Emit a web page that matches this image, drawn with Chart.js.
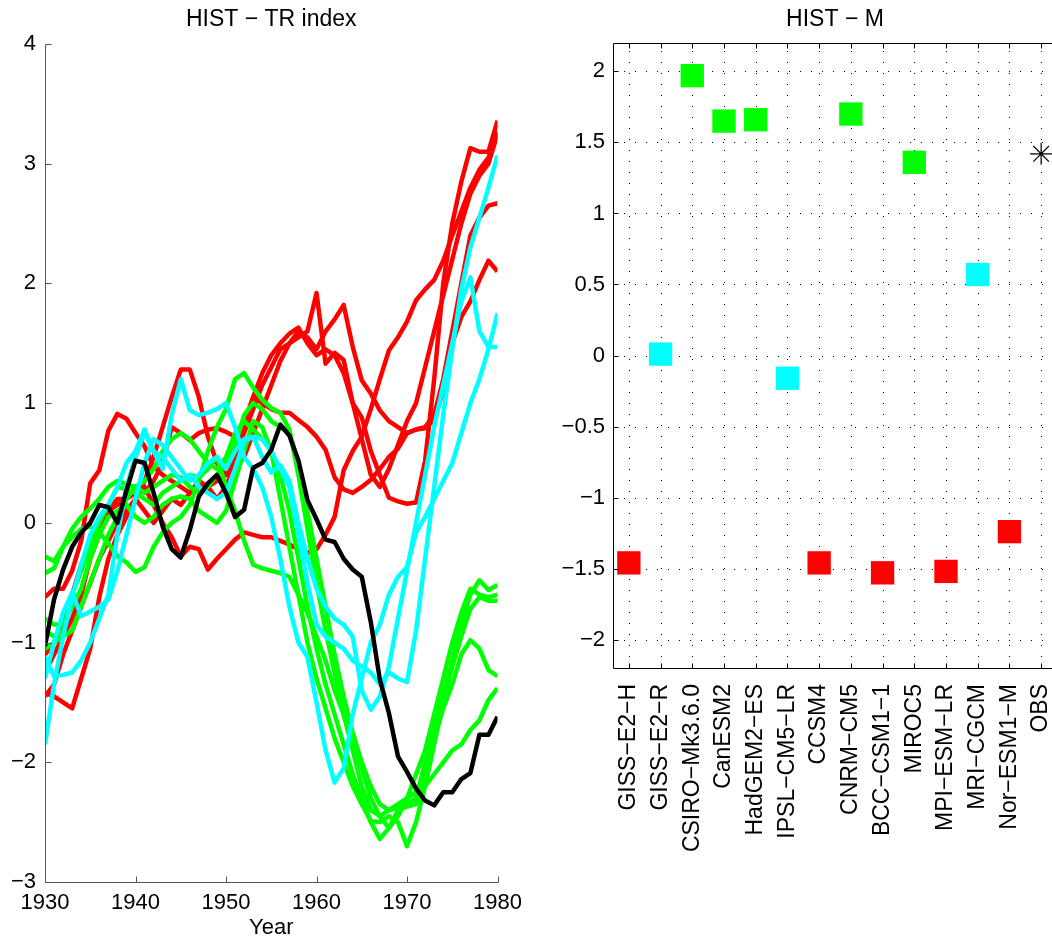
<!DOCTYPE html>
<html>
<head>
<meta charset="utf-8">
<script src="https://cdn.jsdelivr.net/npm/chart.js@4.4.0/dist/chart.umd.min.js"></script>
<style>
  html, body { margin: 0; padding: 0; background: #fff; overflow: hidden; width: 1052px; height: 941px; }
  #left { position: absolute; left: 0; top: 0; }
  #right { position: absolute; left: 540px; top: 0; }
</style>
</head>
<body>
<canvas id="left" width="530" height="941"></canvas>
<canvas id="right" width="560" height="941"></canvas>
<script>
// left panel: TR index, one value per year
const years = [1930,1931,1932,1933,1934,1935,1936,1937,1938,1939,
  1940,1941,1942,1943,1944,1945,1946,1947,1948,1949,
  1950,1951,1952,1953,1954,1955,1956,1957,1958,1959,
  1960,1961,1962,1963,1964,1965,1966,1967,1968,1969,
  1970,1971,1972,1973,1974,1975,1976,1977,1978,1979,1980];

const obs = [-1.03,-0.64,-0.39,-0.20,-0.08,0.00,0.15,0.13,0.00,0.27,
  0.52,0.50,0.25,-0.03,-0.22,-0.29,-0.06,0.22,0.33,0.40,
  0.25,0.05,0.11,0.46,0.50,0.61,0.82,0.73,0.52,0.19,
  0.03,-0.14,-0.16,-0.30,-0.39,-0.45,-0.83,-1.31,-1.59,-1.95,
  -2.08,-2.22,-2.32,-2.36,-2.25,-2.25,-2.14,-2.09,-1.77,-1.77,-1.62];

const red1 = [-1.42,-1.45,-1.50,-1.55,-1.30,-1.05,-0.62,-0.30,-0.10,0.05,
  0.20,0.35,0.55,0.80,1.05,1.28,1.28,1.05,0.72,0.50,
  0.40,0.45,0.55,0.75,0.95,1.15,1.35,1.50,1.60,1.55,
  1.45,1.60,1.70,1.82,1.47,1.19,1.08,0.94,0.85,0.80,
  0.75,0.78,0.79,0.86,1.10,1.50,1.72,1.85,2.03,2.19,2.10];
const red2 = [-0.62,-0.55,-0.55,-0.40,-0.15,0.33,0.44,0.77,0.91,0.87,
  0.75,0.64,0.47,0.40,0.35,0.30,0.25,0.30,0.30,0.35,
  0.40,0.55,0.75,0.95,1.15,1.30,1.45,1.50,1.55,1.60,
  1.92,1.33,1.42,1.36,1.00,0.88,0.60,0.40,0.21,0.18,
  0.16,0.17,0.52,1.20,2.00,2.50,2.85,3.13,3.10,3.10,3.36];
const red3 = [-1.25,-1.10,-0.95,-0.80,-0.60,-0.30,-0.10,0.10,0.20,0.20,
  0.25,0.30,0.15,0.00,-0.12,-0.28,-0.20,-0.22,-0.39,-0.30,
  -0.22,-0.14,-0.08,-0.10,-0.12,-0.12,-0.15,-0.18,-0.22,-0.25,
  -0.22,-0.10,0.05,0.44,0.60,0.72,0.95,1.20,1.44,1.55,
  1.68,1.86,1.95,2.03,2.19,2.40,2.60,2.80,2.95,3.05,3.27];
const red4 = [-1.10,-1.00,-0.85,-0.60,-0.35,-0.15,0.00,0.10,0.15,0.20,
  0.30,0.25,0.35,0.50,0.80,0.75,0.69,0.75,0.78,0.79,
  0.76,0.72,0.84,1.05,1.00,0.95,0.92,0.92,0.86,0.80,
  0.72,0.61,0.38,0.28,0.25,0.30,0.36,0.45,0.55,0.62,
  0.75,0.78,0.80,0.90,1.20,1.60,2.00,2.40,2.55,2.65,2.67];
const red5 = [-1.45,-1.35,-1.10,-0.90,-0.70,-0.50,-0.30,-0.15,0.00,0.10,
  0.20,0.10,0.00,0.10,0.20,0.15,0.25,0.35,0.30,0.20,
  0.30,0.50,0.80,1.05,1.25,1.40,1.50,1.58,1.63,1.50,
  1.40,1.45,1.40,1.25,1.00,0.70,0.40,0.30,0.45,0.65,
  0.85,1.00,1.30,1.60,1.90,2.20,2.50,2.75,2.90,3.00,3.25];

const green1 = [-0.28,-0.32,-0.20,-0.12,-0.05,-0.03,-0.08,-0.17,-0.28,-0.33,
  -0.41,-0.37,-0.20,-0.08,0.00,0.05,0.15,0.35,0.60,0.80,
  0.95,1.20,1.25,1.13,1.03,0.96,0.92,0.78,0.40,-0.05,
  -0.50,-0.90,-1.25,-1.60,-1.90,-2.20,-2.40,-2.45,-2.40,-2.38,
  -2.35,-2.30,-2.00,-1.70,-1.45,-1.15,-0.85,-0.60,-0.48,-0.56,-0.52];
const green2 = [-0.42,-0.38,-0.20,-0.05,0.05,0.12,0.20,0.30,0.35,0.32,
  0.30,0.35,0.45,0.60,0.70,0.75,0.70,0.60,0.50,0.45,
  0.55,0.75,0.85,0.78,0.70,0.60,0.40,0.10,-0.30,-0.70,
  -1.05,-1.35,-1.60,-1.85,-2.10,-2.30,-2.50,-2.64,-2.55,-2.45,
  -2.30,-2.10,-1.90,-1.60,-1.30,-1.00,-0.75,-0.55,-0.60,-0.62,-0.60];
const green3 = [-0.80,-0.85,-0.85,-0.70,-0.55,-0.30,-0.10,0.05,0.10,0.15,
  0.05,0.00,0.05,0.15,0.20,0.22,0.20,0.10,0.05,0.00,
  0.10,0.35,0.60,0.85,0.80,0.60,0.20,-0.20,-0.60,-1.00,
  -1.30,-1.55,-1.80,-2.00,-2.20,-2.35,-2.49,-2.50,-2.45,-2.50,
  -2.70,-2.50,-2.20,-1.85,-1.50,-1.20,-0.95,-0.72,-0.62,-0.65,-0.65];
const green4 = [-0.90,-0.95,-0.90,-0.60,-0.40,-0.20,0.00,0.15,0.30,0.28,
  0.25,0.20,0.15,0.25,0.30,0.35,0.40,0.38,0.45,0.55,
  0.30,0.10,-0.15,-0.35,-0.38,-0.40,-0.42,-0.45,-0.60,-0.75,
  -0.95,-1.15,-1.40,-1.60,-1.85,-2.05,-2.30,-2.45,-2.55,-2.40,
  -2.37,-2.35,-2.10,-1.80,-1.55,-1.35,-1.10,-0.98,-1.05,-1.23,-1.28];
const green5 = [-1.05,-1.00,-0.95,-0.90,-0.70,-0.50,-0.30,-0.10,0.05,0.20,
  0.30,0.25,0.30,0.35,0.40,0.38,0.30,0.25,0.30,0.40,
  0.50,0.65,0.90,1.00,0.95,0.85,0.80,0.75,0.50,0.10,
  -0.30,-0.70,-1.10,-1.45,-1.75,-2.00,-2.20,-2.35,-2.40,-2.35,
  -2.30,-2.25,-2.20,-2.10,-2.00,-1.90,-1.85,-1.73,-1.65,-1.48,-1.38];

const cyan1 = [-1.85,-1.35,-0.95,-0.62,-0.35,-0.10,0.05,0.15,0.30,0.50,
  0.60,0.78,0.60,0.45,0.90,1.20,0.94,0.90,0.92,0.95,
  1.00,0.80,0.55,0.45,0.30,0.05,-0.30,-0.70,-1.00,-1.12,
  -1.50,-1.90,-2.17,-2.05,-1.60,-1.30,-1.00,-0.85,-0.60,-0.45,
  -0.37,-0.08,0.05,0.20,0.35,0.50,0.75,1.00,1.20,1.45,1.75];
const cyan2 = [-1.12,-1.28,-1.27,-1.25,-1.15,-1.00,-0.80,-0.60,-0.10,0.30,
  0.55,0.75,0.60,0.55,0.45,0.35,0.40,0.30,0.25,0.20,
  0.25,0.45,0.68,0.72,0.70,0.60,0.45,0.30,-0.10,-0.50,
  -0.85,-0.95,-1.00,-1.05,-1.15,-1.20,-1.25,-1.35,-1.25,-1.30,
  -1.33,-0.90,-0.30,0.30,0.90,1.45,1.95,2.30,2.55,2.80,3.07];
const cyan3 = [-1.30,-1.00,-0.75,-0.58,-0.78,-0.74,-0.70,-0.64,-0.40,-0.10,
  0.20,0.50,0.70,0.65,0.55,0.45,0.35,0.40,0.50,0.55,
  0.45,0.60,0.70,0.72,0.55,0.42,0.48,0.35,0.00,-0.30,
  -0.55,-0.70,-0.80,-0.85,-0.95,-1.40,-1.56,-1.45,-1.20,-0.80,
  -0.40,0.00,0.40,0.80,1.15,1.50,1.85,2.05,1.60,1.47,1.47];

// right panel: M per model
const modelNames = ['GISS\u2212E2\u2212H','GISS\u2212E2\u2212R','CSIRO\u2212Mk3.6.0','CanESM2','HadGEM2\u2212ES',
  'IPSL\u2212CM5\u2212LR','CCSM4','CNRM\u2212CM5','BCC\u2212CSM1\u22121','MIROC5','MPI\u2212ESM\u2212LR',
  'MRI\u2212CGCM','Nor\u2212ESM1\u2212M','OBS'];
const modelM = [-1.46, 0.01, 1.97, 1.65, 1.66, -0.16, -1.46, 1.70, -1.53, 1.36, -1.52, 0.57, -1.24, 1.42];
const modelGroup = ['red','cyan','green','green','green','cyan','red','green','red','green','red','cyan','red','obs'];

const COLORS = { red: '#ff0000', green: '#00ff00', cyan: '#00ffff', obs: '#000000' };
Chart.defaults.font.family = '"Liberation Sans", Helvetica, Arial, sans-serif';
Chart.defaults.color = '#000';

function fmt(v) {
  return v < 0 ? '\u2212' + Math.abs(v) : String(v);
}

// axis lines + ticks pointing into the plot, dotted grid if asked
const frame = {
  id: 'frame',
  beforeDatasetsDraw(chart, args, o) {
    if (!o.grid) return;
    const { ctx, chartArea: a, scales: { x, y } } = chart;
    ctx.save();
    ctx.strokeStyle = '#000';
    ctx.lineWidth = 1;
    ctx.setLineDash([1, 10]);
    ctx.beginPath();
    x.ticks.forEach(t => {
      const p = Math.round(x.getPixelForValue(t.value)) + 0.5;
      ctx.moveTo(p, a.bottom);
      ctx.lineTo(p, a.top);
    });
    y.ticks.forEach(t => {
      const p = Math.round(y.getPixelForValue(t.value)) + 0.5;
      ctx.moveTo(a.left, p);
      ctx.lineTo(a.right, p);
    });
    ctx.stroke();
    ctx.restore();
  },
  afterDatasetsDraw(chart, args, o) {
    const { ctx, chartArea: a, scales: { x, y } } = chart;
    const L = Math.round(a.left) + 0.5, R = Math.round(a.right) + 0.5;
    const T = Math.round(a.top) + 0.5, B = Math.round(a.bottom) + 0.5;
    ctx.save();
    ctx.strokeStyle = o.color;
    ctx.lineWidth = 1;
    ctx.beginPath();
    y.ticks.forEach(t => {
      const p = Math.round(y.getPixelForValue(t.value)) + 0.5;
      ctx.moveTo(L, p); ctx.lineTo(L + o.len, p);
      if (o.box) { ctx.moveTo(R, p); ctx.lineTo(R - o.len, p); }
    });
    x.ticks.forEach(t => {
      const p = Math.round(x.getPixelForValue(t.value)) + 0.5;
      ctx.moveTo(p, B); ctx.lineTo(p, B - o.len);
      if (o.box) { ctx.moveTo(p, T); ctx.lineTo(p, T + o.len); }
    });
    ctx.moveTo(L, T); ctx.lineTo(L, B); ctx.lineTo(R, B);
    if (o.box) { ctx.lineTo(R, T); ctx.lineTo(L, T); }
    ctx.stroke();
    ctx.restore();
  }
};

const lines = [
  { data: obs, color: COLORS.obs },
  { data: cyan1, color: COLORS.cyan }, { data: cyan2, color: COLORS.cyan }, { data: cyan3, color: COLORS.cyan },
  { data: green1, color: COLORS.green }, { data: green2, color: COLORS.green }, { data: green3, color: COLORS.green },
  { data: green4, color: COLORS.green }, { data: green5, color: COLORS.green },
  { data: red1, color: COLORS.red }, { data: red2, color: COLORS.red }, { data: red3, color: COLORS.red },
  { data: red4, color: COLORS.red }, { data: red5, color: COLORS.red }
];

new Chart(document.getElementById('left'), {
  type: 'line',
  data: {
    datasets: lines.map(s => ({
      data: years.map((yr, i) => ({ x: yr, y: s.data[i] })),
      borderColor: s.color,
      borderWidth: 4.5,
      borderJoinStyle: 'round',
      pointRadius: 0,
      tension: 0,
      fill: false
    }))
  },
  options: {
    responsive: false,
    animation: false,
    devicePixelRatio: 1,
    layout: { padding: { left: 0, right: 30, top: 0, bottom: 0 } },
    plugins: {
      legend: { display: false },
      tooltip: { enabled: false },
      title: {
        display: true, text: 'HIST \u2212 TR index', fullSize: false,
        font: { size: 23, weight: 'normal' }, color: '#000',
        padding: { top: 6, bottom: 10.4 }
      },
      frame: { color: '#555', len: 6, box: false, grid: false }
    },
    scales: {
      x: {
        type: 'linear', min: 1930, max: 1980,
        ticks: { stepSize: 10, includeBounds: false, padding: 8, maxRotation: 0, font: { size: 22 }, callback: v => String(v) },
        grid: { display: false, drawTicks: false }, border: { display: false },
        title: { display: true, text: 'Year', font: { size: 22 }, padding: { top: 0, bottom: 0 } },
        afterFit: s => { s.height = 59; }
      },
      y: {
        min: -3, max: 4,
        ticks: { stepSize: 1, padding: 9, font: { size: 22 }, callback: fmt },
        grid: { display: false, drawTicks: false }, border: { display: false },
        afterFit: s => { s.width = 45; }
      }
    }
  },
  plugins: [frame]
});

new Chart(document.getElementById('right'), {
  type: 'scatter',
  data: {
    datasets: [{
      data: modelM.map((m, i) => ({ x: i + 1, y: m })),
      pointStyle: modelGroup.map(g => g === 'obs' ? 'star' : 'rect'),
      pointRadius: modelGroup.map(g => g === 'obs' ? 11 : 16.5),
      pointBackgroundColor: modelGroup.map(g => COLORS[g]),
      pointBorderColor: modelGroup.map(g => COLORS[g]),
      pointBorderWidth: modelGroup.map(g => g === 'obs' ? 1.2 : 0),
      clip: false
    }]
  },
  options: {
    responsive: false,
    animation: false,
    devicePixelRatio: 1,
    layout: { padding: { left: 0, right: 43, top: 0, bottom: 0 } },
    plugins: {
      legend: { display: false },
      tooltip: { enabled: false },
      title: {
        display: true, text: 'HIST \u2212 M', fullSize: false,
        font: { size: 23, weight: 'normal' }, color: '#000',
        padding: { top: 6, bottom: 9.4 }
      },
      frame: { color: '#000', len: 5, box: true, grid: true }
    },
    scales: {
      x: {
        type: 'linear', min: 0.5, max: 14.5,
        afterBuildTicks: s => { s.ticks = modelNames.map((n, i) => ({ value: i + 1 })); },
        ticks: {
          autoSkip: false, minRotation: 90, maxRotation: 90, padding: 16, font: { size: 23 },
          callback: v => modelNames[Math.round(v) - 1]
        },
        grid: { display: false, drawTicks: false }, border: { display: false },
        afterFit: s => { s.height = 273; }
      },
      y: {
        min: -2.2, max: 2.2,
        ticks: { stepSize: 0.5, includeBounds: false, padding: 8, font: { size: 22 }, callback: fmt },
        grid: { display: false, drawTicks: false }, border: { display: false },
        afterFit: s => { s.width = 73; }
      }
    }
  },
  plugins: [frame]
});
</script>
</body>
</html>
